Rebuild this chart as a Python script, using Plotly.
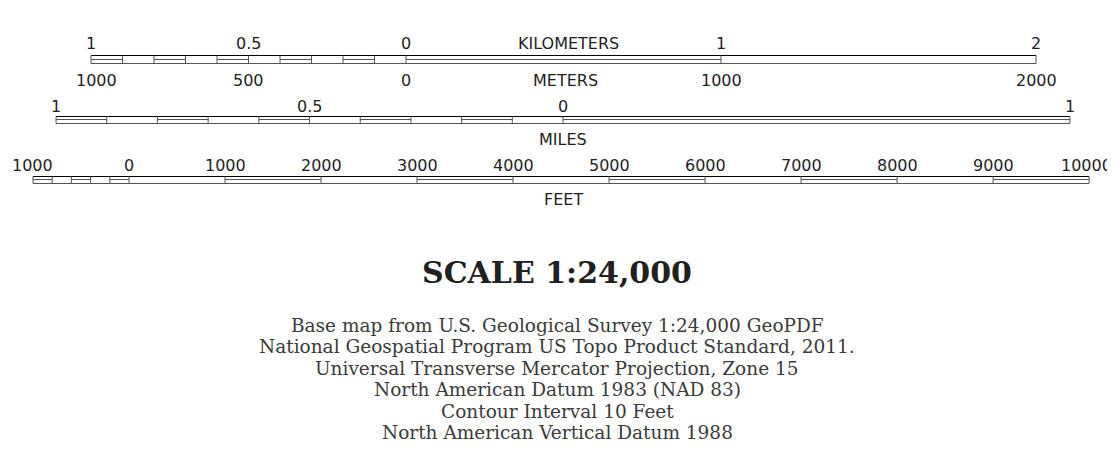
import plotly.graph_objects as go

# ---------------- data ----------------
km_divisions = [-1.0, -0.9, -0.8, -0.7, -0.6, -0.5, -0.4, -0.3, -0.2, -0.1, 0.0, 1.0, 2.0]
km_double = [1, 0, 1, 0, 1, 0, 1, 0, 1, 0, 1, 0]
km_label_vals = [-1, -0.5, 0, 1, 2]
km_label_text = ["1", "0.5", "0", "1", "2"]
m_label_vals = [-1000, -500, 0, 1000, 2000]
m_label_text = ["1000", "500", "0", "1000", "2000"]

mile_divisions = [-1.0, -0.9, -0.8, -0.7, -0.6, -0.5, -0.4, -0.3, -0.2, -0.1, 0.0, 1.0]
mile_double = [1, 0, 1, 0, 1, 0, 1, 0, 1, 0, 1]
mile_label_vals = [-1, -0.5, 0, 1]
mile_label_text = ["1", "0.5", "0", "1"]

feet_divisions = [-1000, -800, -600, -400, -200, 0, 1000, 2000, 3000, 4000,
                  5000, 6000, 7000, 8000, 9000, 10000]
feet_double = [1, 0, 1, 0, 1, 0, 1, 0, 1, 0, 1, 0, 1, 0, 1]
feet_label_vals = [-1000, 0, 1000, 2000, 3000, 4000, 5000, 6000, 7000, 8000, 9000, 10000]
feet_label_text = ["1000", "0", "1000", "2000", "3000", "4000", "5000", "6000",
                   "7000", "8000", "9000", "10000"]

title_text = "SCALE 1:24,000"
credit_lines = [
    "Base map from U.S. Geological Survey 1:24,000 GeoPDF",
    "National Geospatial Program US Topo Product Standard, 2011.",
    "Universal Transverse Mercator Projection, Zone 15",
    "North American Datum 1983 (NAD 83)",
    "Contour Interval 10 Feet",
    "North American Vertical Datum 1988",
]

# ---------------- layout constants ----------------
WIN_W, WIN_H = 1115, 462
OFF = 8                        # default page body margin
W, H = WIN_W - OFF, WIN_H - OFF
KM_PX = 315.0                  # pixels per kilometre
KM0, MI0, FT0 = 406.0, 563.0, 129.0   # window pixel position of zero on each bar
MI_PX = KM_PX * 1.609344
FT_PX = KM_PX * 0.0003048
CENTER_PAPER = (557.0 - OFF) / W

def rng(zero_px, px_per_unit):
    return [(OFF - zero_px) / px_per_unit, (WIN_W - zero_px) / px_per_unit]

SANS = "DejaVu Sans"
SERIF = "DejaVu Serif"
DARK = "#1e1e1e"
GREY = "#555555"

fig = go.Figure()
fig.add_trace(go.Scatter(x=[0], y=[0], mode="markers", marker=dict(opacity=0),
                         hoverinfo="skip", showlegend=False))

shapes = []
annotations = []

def add_bar(xref, divs, dbl, y_top, y_mid, y_bot):
    x0, x1 = divs[0], divs[-1]
    shapes.append(dict(type="line", xref=xref, yref="y", x0=x0, x1=x1, y0=y_top, y1=y_top,
                       line=dict(color="#000000", width=1.2)))
    shapes.append(dict(type="line", xref=xref, yref="y", x0=x0, x1=x1, y0=y_bot, y1=y_bot,
                       line=dict(color=GREY, width=1)))
    for d in divs:
        shapes.append(dict(type="line", xref=xref, yref="y", x0=d, x1=d, y0=y_top, y1=y_bot,
                           line=dict(color=GREY, width=1)))
    for i, f in enumerate(dbl):
        if f:
            shapes.append(dict(type="line", xref=xref, yref="y", x0=divs[i], x1=divs[i + 1],
                               y0=y_mid, y1=y_mid, line=dict(color=GREY, width=1)))

def add_labels(xref, vals, texts, y, size=16, scale=1.0, shifts=None):
    for i, (v, t) in enumerate(zip(vals, texts)):
        annotations.append(dict(xref=xref, yref="y", x=v * scale, y=y, text=t, showarrow=False,
                                xanchor="center", yanchor="middle",
                                xshift=(shifts[i] if shifts else 0),
                                font=dict(family=SANS, size=size, color=DARK)))

# kilometre / metre bar
add_bar("x", km_divisions, km_double, 55.5, 59.5, 63.5)
add_labels("x", km_label_vals, km_label_text, 43)
add_labels("x", m_label_vals, m_label_text, 80, scale=0.001, shifts=[5, 0, 0, 0, 0])
annotations.append(dict(xref="x", yref="y", x=(km_divisions[0] + km_divisions[-1]) / 2, y=43,
                        text="KILOMETERS", showarrow=False, xshift=5,
                        font=dict(family=SANS, size=16, color=DARK)))
annotations.append(dict(xref="x", yref="y", x=(km_divisions[0] + km_divisions[-1]) / 2, y=80,
                        text="METERS", showarrow=False, xshift=2,
                        font=dict(family=SANS, size=16, color=DARK)))

# mile bar
add_bar("x2", mile_divisions, mile_double, 116.5, 119.5, 123.5)
add_labels("x2", mile_label_vals, mile_label_text, 106)
annotations.append(dict(xref="x2", yref="y", x=(mile_divisions[0] + mile_divisions[-1]) / 2, y=139,
                        text="MILES", showarrow=False,
                        font=dict(family=SANS, size=16, color=DARK)))

# feet bar
add_bar("x3", feet_divisions, feet_double, 176.5, 179.5, 183.5)
feet_shifts = [0] * (len(feet_label_vals) - 1) + [-3]
add_labels("x3", feet_label_vals, feet_label_text, 165, shifts=feet_shifts)
annotations.append(dict(xref="x3", yref="y", x=(feet_divisions[0] + feet_divisions[-1]) / 2, y=199,
                        text="FEET", showarrow=False, xshift=2,
                        font=dict(family=SANS, size=16, color=DARK)))

# title and credits
annotations.append(dict(xref="paper", yref="y", x=CENTER_PAPER, y=272, text="<b>" + title_text + "</b>",
                        showarrow=False, xanchor="center", yanchor="middle",
                        font=dict(family="DejaVu Serif", size=30, color="#202020")))
credit_y = [325, 346.5, 368, 389.5, 411, 432.5]
for t, yy in zip(credit_lines, credit_y):
    annotations.append(dict(xref="paper", yref="y", x=CENTER_PAPER, y=yy, text=t, showarrow=False,
                            xanchor="center", yanchor="middle",
                            font=dict(family=SERIF, size=18.5, color="#3a3a3a")))

axis_common = dict(visible=False, showgrid=False, zeroline=False, fixedrange=True)
fig.update_layout(
    width=W, height=H,
    margin=dict(l=0, r=0, t=0, b=0),
    paper_bgcolor="white", plot_bgcolor="white",
    showlegend=False,
    xaxis=dict(range=rng(KM0, KM_PX), domain=[0, 1], **axis_common),
    xaxis2=dict(range=rng(MI0, MI_PX), overlaying="x", domain=[0, 1], **axis_common),
    xaxis3=dict(range=rng(FT0, FT_PX), overlaying="x", domain=[0, 1], **axis_common),
    yaxis=dict(range=[WIN_H, OFF], domain=[0, 1], **axis_common),
    shapes=shapes,
    annotations=annotations,
)

fig.write_html("out.html")
